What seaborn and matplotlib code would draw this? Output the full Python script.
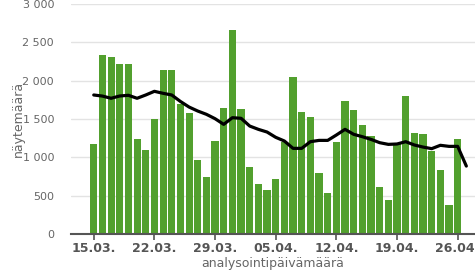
import matplotlib
matplotlib.use("Agg")
import matplotlib.pyplot as plt
import matplotlib.ticker as mticker
import seaborn as sns
import pandas as pd
import numpy as np

dates = pd.date_range("2021-03-15", "2021-04-27", freq="D")
counts = [1180, 2330, 2315, 2220, 2215, 1235, 1095, 1505, 2135, 2145,
          1692, 1585, 970, 748, 1218, 1650, 2665, 1628, 875, 650,
          580, 720, 1195, 2055, 1592, 1532, 800, 537, 1195, 1732,
          1615, 1422, 1279, 620, 450, 1180, 1798, 1318, 1302, 1085,
          836, 375, 1240, np.nan]
avg = [1814, 1800, 1771, 1801, 1810, 1771, 1814, 1862, 1836, 1814,
       1730, 1657, 1605, 1562, 1505, 1431, 1518, 1510, 1409, 1366,
       1331, 1262, 1214, 1118, 1118, 1205, 1222, 1222, 1292, 1366,
       1301, 1270, 1235, 1192, 1170, 1175, 1205, 1162, 1135, 1114,
       1158, 1144, 1144, 887]
tick_labels = ["15.03.", "22.03.", "29.03.", "05.04.", "12.04.", "19.04.", "26.04."]

df = pd.DataFrame({"day": np.arange(len(dates)), "count": counts, "avg": avg})

sns.set_theme(style="white")
plt.rcParams['font.family'] = ['DejaVu Sans']

fig = plt.figure(figsize=(4.75, 2.70), dpi=100)
ax = fig.add_axes([0.149, 0.133, 0.851, 0.852])

sns.barplot(data=df.dropna(), x="day", y="count", native_scale=True,
            color="#52a02e", saturation=1, width=0.82, linewidth=0, ax=ax, zorder=2)
sns.lineplot(data=df, x="day", y="avg", color="black", linewidth=2.3, ax=ax, zorder=3)

ax.set_ylim(0, 3000)
ax.set_xlim(-2.65, 44)
ax.yaxis.set_major_locator(mticker.MultipleLocator(500))
ax.yaxis.set_major_formatter(mticker.FuncFormatter(lambda v, p: f"{int(v):,}".replace(",", " ")))
ax.grid(axis="y", color="#e3e3e3", linewidth=1, zorder=0)
ax.set_axisbelow(True)

ax.set_xticks(np.arange(0, 43, 7))
ax.set_xticklabels(tick_labels, fontsize=9, fontweight="bold", color="#555555")
ax.tick_params(axis="x", length=4, width=1.2, color="#555555", bottom=True, pad=2)
ax.tick_params(axis="y", length=0, labelsize=8, labelcolor="#666666", pad=12)

for s in ["left", "right", "top"]:
    ax.spines[s].set_visible(False)
ax.spines["bottom"].set_color("#555555")
ax.spines["bottom"].set_linewidth(1.5)

ax.set_xlabel("analysointipäivämäärä", fontsize=9, color="#666666", labelpad=1)
ax.set_ylabel("näytemäärä", fontsize=9, color="#666666", labelpad=-2)

fig.savefig("out.png", dpi=100)
